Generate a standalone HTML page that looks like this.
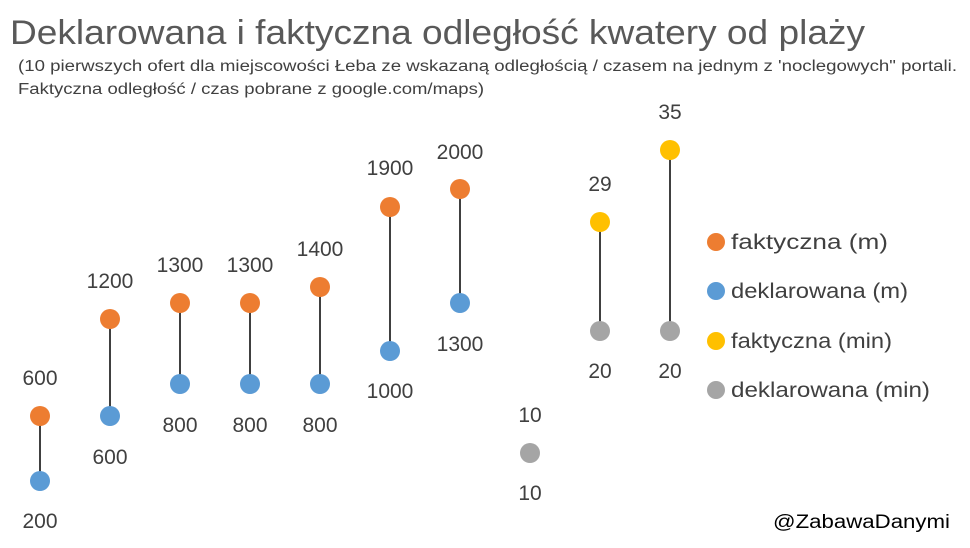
<!DOCTYPE html>
<html><head><meta charset="utf-8"><style>body{margin:0;background:#fff}svg{display:block}</style></head><body>
<svg width="970" height="548" xmlns="http://www.w3.org/2000/svg" font-family="Liberation Sans, sans-serif">
<text x="10" y="44" font-size="34" fill="#595959" textLength="855" lengthAdjust="spacingAndGlyphs">Deklarowana i faktyczna odległość kwatery od plaży</text>
<text x="18" y="71" font-size="15.5" fill="#404040" textLength="939" lengthAdjust="spacingAndGlyphs">(10 pierwszych ofert dla miejscowości Łeba ze wskazaną odległością / czasem na jednym z 'noclegowych" portali.</text>
<text x="18" y="94" font-size="15.5" fill="#404040" textLength="466" lengthAdjust="spacingAndGlyphs">Faktyczna odległość / czas pobrane z google.com/maps)</text>
<g stroke="#404040" stroke-width="2">
<line x1="40" y1="416" x2="40" y2="481"/><line x1="110" y1="319" x2="110" y2="416"/>
<line x1="180" y1="303" x2="180" y2="384"/><line x1="250" y1="303" x2="250" y2="384"/>
<line x1="320" y1="287" x2="320" y2="384"/><line x1="390" y1="207" x2="390" y2="351"/>
<line x1="460" y1="189" x2="460" y2="303"/><line x1="600" y1="222" x2="600" y2="331"/>
<line x1="670" y1="150" x2="670" y2="331"/></g>
<g fill="#ED7D31"><circle cx="40" cy="416" r="10"/><circle cx="110" cy="319" r="10"/><circle cx="180" cy="303" r="10"/><circle cx="250" cy="303" r="10"/><circle cx="320" cy="287" r="10"/><circle cx="390" cy="207" r="10"/><circle cx="460" cy="189" r="10"/></g>
<g fill="#5B9BD5"><circle cx="40" cy="481" r="10"/><circle cx="110" cy="416" r="10"/><circle cx="180" cy="384" r="10"/><circle cx="250" cy="384" r="10"/><circle cx="320" cy="384" r="10"/><circle cx="390" cy="351" r="10"/><circle cx="460" cy="303" r="10"/></g>
<g fill="#FFC000"><circle cx="600" cy="222" r="10"/><circle cx="670" cy="150" r="10"/></g>
<g fill="#A5A5A5"><circle cx="530" cy="453" r="10"/><circle cx="600" cy="331" r="10"/><circle cx="670" cy="331" r="10"/></g>
<g font-size="21" fill="#404040" text-anchor="middle">
<text x="40" y="385">600</text><text x="40" y="528">200</text>
<text x="110" y="288">1200</text><text x="110" y="464">600</text>
<text x="180" y="272">1300</text><text x="180" y="432">800</text>
<text x="250" y="272">1300</text><text x="250" y="432">800</text>
<text x="320" y="256">1400</text><text x="320" y="432">800</text>
<text x="390" y="175">1900</text><text x="390" y="398">1000</text>
<text x="460" y="159">2000</text><text x="460" y="351">1300</text>
<text x="530" y="422">10</text><text x="530" y="500">10</text>
<text x="600" y="191">29</text><text x="600" y="378">20</text>
<text x="670" y="119">35</text><text x="670" y="378">20</text>
</g>
<g font-size="21" fill="#404040">
<circle cx="716" cy="242" r="9" fill="#ED7D31"/><text x="731" y="249" textLength="157" lengthAdjust="spacingAndGlyphs">faktyczna (m)</text>
<circle cx="716" cy="291" r="9" fill="#5B9BD5"/><text x="731" y="298" textLength="177" lengthAdjust="spacingAndGlyphs">deklarowana (m)</text>
<circle cx="716" cy="341" r="9" fill="#FFC000"/><text x="731" y="348" textLength="161" lengthAdjust="spacingAndGlyphs">faktyczna (min)</text>
<circle cx="716" cy="390" r="9" fill="#A5A5A5"/><text x="731" y="397" textLength="199" lengthAdjust="spacingAndGlyphs">deklarowana (min)</text>
<text x="773" y="528" font-size="19" fill="#000" textLength="177" lengthAdjust="spacingAndGlyphs">@ZabawaDanymi</text>
</g>
</svg>
</body></html>
